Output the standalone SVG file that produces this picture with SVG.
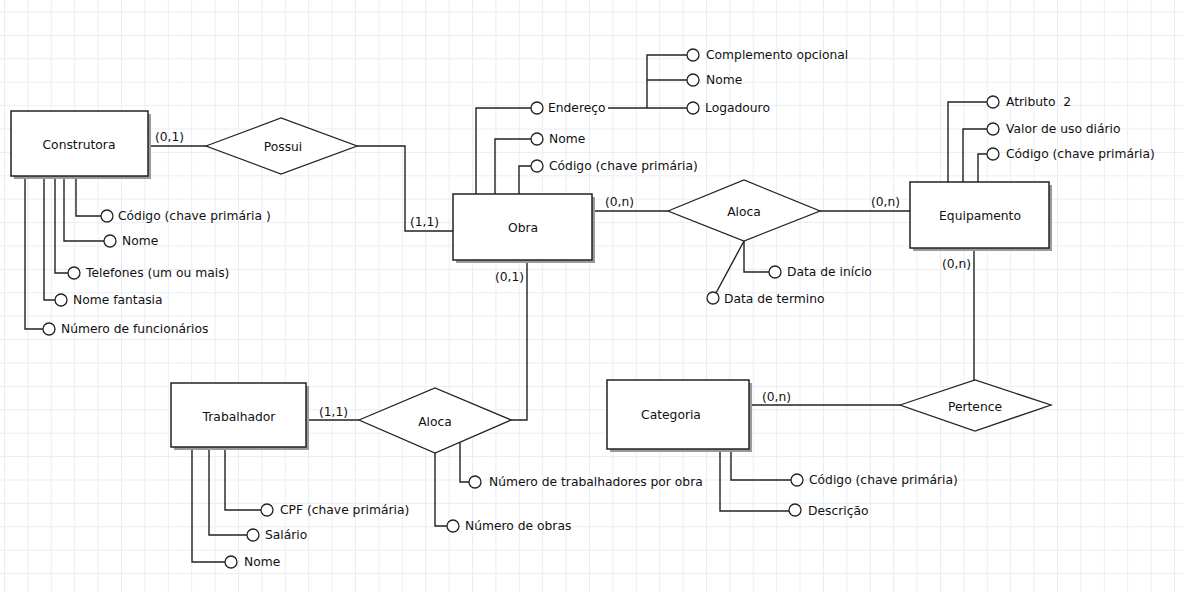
<svg xmlns="http://www.w3.org/2000/svg" width="1183" height="592" viewBox="0 0 1183 592">
<defs>
<pattern id="grid" patternUnits="userSpaceOnUse" x="4" y="11.5" width="23.4" height="23.4">
<path d="M0 0.5H23.4M0.5 0V23.4" fill="none" stroke="#eaedf3" stroke-width="1"/>
</pattern>
</defs>
<style>
text{font-family:"DejaVu Sans",Verdana,sans-serif;font-size:12.3px;fill:#111;white-space:pre}
.c{text-anchor:middle}
.ent{fill:#fff;stroke:#222;stroke-width:1.5}
.sh{fill:#9a9a9a}
.rel{fill:#fff;stroke:#222;stroke-width:1.3}
.ln{fill:none;stroke:#222;stroke-width:1.4}
.at{fill:#fff;stroke:#222;stroke-width:1.3}
</style>
<rect width="1183" height="592" fill="#fff"/>
<rect width="1183" height="592" fill="url(#grid)"/>

<g id="connectors">
<path class="ln" d="M148 146H206"/>
<path class="ln" d="M357 146H405V231H453"/>
<path class="ln" d="M592 211H668"/>
<path class="ln" d="M820 211H910"/>
<path class="ln" d="M974 248V380"/>
<path class="ln" d="M749 405H900"/>
<path class="ln" d="M306 420H359"/>
<path class="ln" d="M511 420H527V260"/>
<!-- Construtora attrs -->
<path class="ln" d="M76 176V216H101"/>
<path class="ln" d="M64 176V241H104"/>
<path class="ln" d="M55 176V273H68"/>
<path class="ln" d="M44 176V300H55"/>
<path class="ln" d="M25 176V329H43"/>
<!-- Obra attrs -->
<path class="ln" d="M476 194V108H531"/>
<path class="ln" d="M495 194V139H531"/>
<path class="ln" d="M519 194V166H531"/>
<path class="ln" d="M608 108H687M647 108V55H687M647 80H687"/>
<!-- Equipamento attrs -->
<path class="ln" d="M948 182V102H987"/>
<path class="ln" d="M963 182V129H987"/>
<path class="ln" d="M978 182V154H987"/>
<!-- Aloca 1 attrs -->
<path class="ln" d="M744 241V272H769"/>
<path class="ln" d="M744 241L716 293"/>
<!-- Categoria attrs -->
<path class="ln" d="M731 449V480H791"/>
<path class="ln" d="M720 449V511H789"/>
<!-- Aloca 2 attrs -->
<path class="ln" d="M460 442V482H469"/>
<path class="ln" d="M435 453V526H447"/>
<!-- Trabalhador attrs -->
<path class="ln" d="M225 447V510H261"/>
<path class="ln" d="M209 447V535H247"/>
<path class="ln" d="M192 447V562H225"/>
</g>

<g id="card-labels">
<text x="155" y="141">(0,1)</text>
<text x="410" y="226">(1,1)</text>
<text x="605" y="206">(0,n)</text>
<text x="871" y="206">(0,n)</text>
<text x="495" y="281">(0,1)</text>
<text x="942" y="268">(0,n)</text>
<text x="762" y="401">(0,n)</text>
<text x="319" y="416">(1,1)</text>
</g>

<g id="construtora">
<rect class="sh" x="14" y="114" width="137" height="65"/>
<rect class="ent" x="11" y="111" width="137" height="65"/>
<text class="c" x="79" y="149">Construtora</text>
</g>
<g id="possui">
<polygon class="rel" points="206,146 281,118 357,146 281,174"/>
<text class="c" x="283" y="151">Possui</text>
</g>
<g id="obra">
<rect class="sh" x="456" y="197" width="139" height="66"/>
<rect class="ent" x="453" y="194" width="139" height="66"/>
<text class="c" x="523" y="232">Obra</text>
</g>
<g id="aloca1">
<polygon class="rel" points="668,211 744,180 820,211 744,241"/>
<text class="c" x="744" y="216">Aloca</text>
</g>
<g id="equipamento">
<rect class="sh" x="913" y="185" width="139" height="66"/>
<rect class="ent" x="910" y="182" width="139" height="66"/>
<text class="c" x="980" y="220">Equipamento</text>
</g>
<g id="pertence">
<polygon class="rel" points="900,405 975,380 1051,405 975,431"/>
<text class="c" x="975" y="411">Pertence</text>
</g>
<g id="categoria">
<rect class="sh" x="610" y="383" width="142" height="69"/>
<rect class="ent" x="607" y="380" width="142" height="69"/>
<text class="c" x="671" y="419">Categoria</text>
</g>
<g id="trabalhador">
<rect class="sh" x="174" y="386" width="135" height="64"/>
<rect class="ent" x="171" y="383" width="135" height="64"/>
<text class="c" x="239" y="421">Trabalhador</text>
</g>
<g id="aloca2">
<polygon class="rel" points="359,420 435,388 511,420 435,453"/>
<text class="c" x="435" y="426">Aloca</text>
</g>

<g id="attr-construtora">
<circle class="at" cx="107" cy="216" r="6"/><text x="118" y="220">Código (chave primária )</text>
<circle class="at" cx="110" cy="241" r="6"/><text x="122" y="245">Nome</text>
<circle class="at" cx="74" cy="273" r="6"/><text x="86" y="277">Telefones (um ou mais)</text>
<circle class="at" cx="61" cy="300" r="6"/><text x="73" y="304">Nome fantasia</text>
<circle class="at" cx="49" cy="329" r="6"/><text x="61" y="333">Número de funcionários</text>
</g>
<g id="attr-obra">
<circle class="at" cx="537" cy="108" r="6"/><text x="548" y="112">Endereço</text>
<circle class="at" cx="537" cy="139" r="6"/><text x="549" y="143">Nome</text>
<circle class="at" cx="537" cy="166" r="6"/><text x="549" y="170">Código (chave primária)</text>
<circle class="at" cx="693" cy="55" r="6"/><text x="706" y="59">Complemento opcional</text>
<circle class="at" cx="693" cy="80" r="6"/><text x="706" y="84">Nome</text>
<circle class="at" cx="693" cy="108" r="6"/><text x="705" y="112">Logadouro</text>
</g>
<g id="attr-equipamento">
<circle class="at" cx="993" cy="102" r="6"/><text x="1006" y="106" xml:space="preserve">Atributo  2</text>
<circle class="at" cx="993" cy="129" r="6"/><text x="1006" y="133">Valor de uso diário</text>
<circle class="at" cx="993" cy="154" r="6"/><text x="1006" y="158">Código (chave primária)</text>
</g>
<g id="attr-aloca1">
<circle class="at" cx="775" cy="272" r="6"/><text x="787" y="276">Data de início</text>
<circle class="at" cx="713" cy="298" r="6"/><text x="724" y="303">Data de termino</text>
</g>
<g id="attr-categoria">
<circle class="at" cx="797" cy="480" r="6"/><text x="809" y="484">Código (chave primária)</text>
<circle class="at" cx="795" cy="510" r="6"/><text x="808" y="515">Descrição</text>
</g>
<g id="attr-aloca2">
<circle class="at" cx="475" cy="482" r="6"/><text x="489" y="486">Número de trabalhadores por obra</text>
<circle class="at" cx="453" cy="526" r="6"/><text x="465" y="530">Número de obras</text>
</g>
<g id="attr-trabalhador">
<circle class="at" cx="267" cy="510" r="6"/><text x="280" y="514">CPF (chave primária)</text>
<circle class="at" cx="253" cy="535" r="6"/><text x="265" y="539">Salário</text>
<circle class="at" cx="231" cy="562" r="6"/><text x="244" y="566">Nome</text>
</g>
</svg>
